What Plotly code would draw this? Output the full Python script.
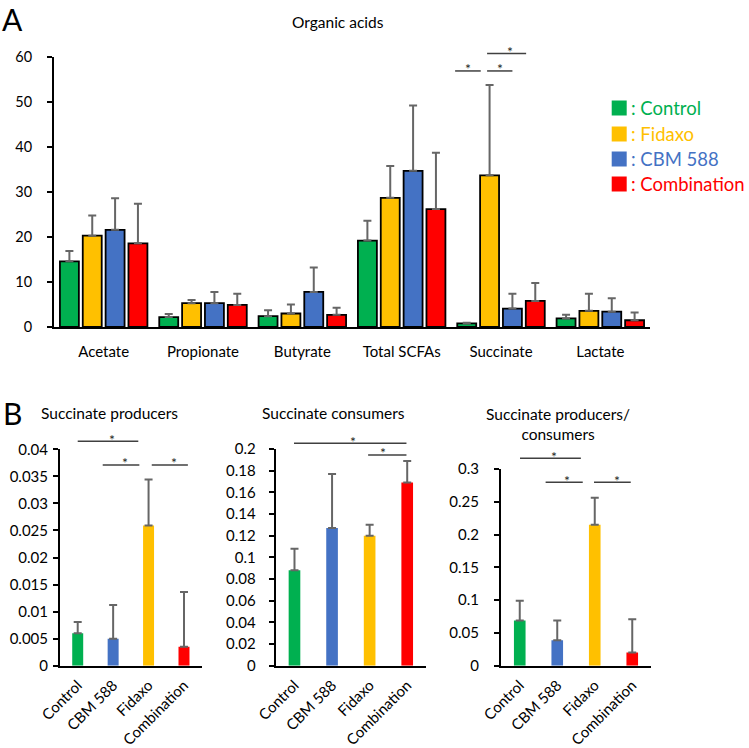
import plotly.graph_objects as go

# ---------------- data ----------------
acid_categories = ["Acetate", "Propionate", "Butyrate", "Total SCFAs", "Succinate", "Lactate"]
group_names = ["Control", "Fidaxo", "CBM 588", "Combination"]
group_colors = ["#00B050", "#FFC000", "#4472C4", "#FF0000"]

control_vals = [14.6, 2.2, 2.4, 19.2, 0.8, 1.9]
fidaxo_vals = [20.3, 5.3, 3.0, 28.7, 33.7, 3.6]
cbm_vals = [21.6, 5.3, 7.8, 34.7, 4.1, 3.4]
combo_vals = [18.6, 4.9, 2.7, 26.2, 5.8, 1.5]

control_err = [2.3, 0.7, 1.3, 4.4, 0.15, 0.8]
fidaxo_err = [4.5, 0.7, 2.0, 7.1, 20.1, 3.8]
cbm_err = [7.0, 2.5, 5.4, 14.5, 3.3, 3.0]
combo_err = [8.8, 2.5, 1.6, 12.5, 4.0, 1.7]

b_categories = ["Control", "CBM 588", "Fidaxo", "Combination"]
b_colors = ["#00B050", "#4472C4", "#FFC000", "#FF0000"]

producers_vals = [0.0060, 0.0050, 0.0259, 0.0035]
producers_err = [0.0021, 0.0062, 0.0085, 0.0101]
consumers_vals = [0.088, 0.127, 0.120, 0.169]
consumers_err = [0.020, 0.050, 0.010, 0.020]
ratio_vals = [0.069, 0.039, 0.215, 0.020]
ratio_err = [0.030, 0.030, 0.041, 0.051]

# significance brackets: (x start, x end, height in data units, star x)
sig_a = [(3.538, 3.796, 56.9, 3.667), (3.86, 4.115, 56.9, 3.994), (3.86, 4.253, 60.8, 4.09)]
sig_b1 = [(0.0, 1.71, 0.0415, 0.96), (0.706, 1.74, 0.0371, 1.34), (2.09, 3.11, 0.0371, 2.72)]
sig_b2 = [(-0.013, 2.98, 0.2052, 1.55), (1.96, 2.98, 0.1945, 2.36)]
sig_b3 = [(0.007, 1.63, 0.3163, 0.91), (0.69, 1.68, 0.2797, 1.27), (1.98, 2.96, 0.2797, 2.60)]

# ---------------- figure ----------------
W, H = 749, 748
FONT = "Lato"
ERR_COL = "#666666"


def px_x(p):
    return p / W


def px_y(p):
    return 1 - p / H


fig = go.Figure()

series = [control_vals, fidaxo_vals, cbm_vals, combo_vals]
errs = [control_err, fidaxo_err, cbm_err, combo_err]
for name, col, vals, er in zip(group_names, group_colors, series, errs):
    fig.add_trace(go.Bar(
        x=acid_categories, y=vals, name=name,
        marker=dict(color=col, line=dict(color="black", width=1.8)),
        error_y=dict(type="data", symmetric=False, array=er, arrayminus=[0] * len(er),
                     color=ERR_COL, thickness=2, width=4),
        xaxis="x", yaxis="y", showlegend=False,
    ))

for i, (vals, er) in enumerate([(producers_vals, producers_err),
                                (consumers_vals, consumers_err),
                                (ratio_vals, ratio_err)]):
    k = i + 2
    fig.add_trace(go.Bar(
        x=b_categories, y=vals, width=0.31,
        marker=dict(color=b_colors, line=dict(width=0)),
        error_y=dict(type="data", symmetric=False, array=er, arrayminus=[0] * len(er),
                     color=ERR_COL, thickness=2, width=4),
        xaxis=f"x{k}", yaxis=f"y{k}", showlegend=False,
    ))

axis_common = dict(showline=True, linecolor="black", linewidth=2, showgrid=False,
                   zeroline=False, automargin=False)

layout = dict(
    template="none",
    width=W, height=H, autosize=False,
    margin=dict(l=0, r=0, t=0, b=0, pad=0),
    paper_bgcolor="white", plot_bgcolor="white",
    barmode="group", bargap=0.08, bargroupgap=0.17,
    font=dict(family=FONT, color="black"),
    xaxis=dict(domain=[px_x(54), px_x(650)], anchor="y", ticks="",
               ticklabelstandoff=10, range=[-0.5, 5.5],
               tickfont=dict(family=FONT, size=15, color="black"), **axis_common),
    yaxis=dict(domain=[px_y(327), px_y(57)], anchor="x", range=[0, 60], dtick=10,
               ticks="outside", ticklen=5, tickwidth=2, tickcolor="black",
               ticklabelstandoff=12, tickfont=dict(family=FONT, size=14.5, color="black"),
               **axis_common),
)

b_domains = [
    ((60, 201.7), (665.7, 449.3), [0, 0.04], 0.005, 2),
    ((275.7, 426), (665.7, 449.0), [0, 0.2], 0.02, 10),
    ((501, 651), (665.7, 469.0), [0, 0.3], 0.05, 12),
]
for i, (xd, yd, rng, dt, standoff) in enumerate(b_domains):
    k = i + 2
    layout[f"xaxis{k}"] = dict(domain=[px_x(xd[0]), px_x(xd[1])], anchor=f"y{k}", ticks="",
                               tickangle=-45, ticklabelstandoff=3, range=[-0.5, 3.5],
                               tickfont=dict(family=FONT, size=15, color="black"), **axis_common)
    layout[f"yaxis{k}"] = dict(domain=[px_y(yd[0]), px_y(yd[1])], anchor=f"x{k}", range=rng,
                               dtick=dt, ticks="outside", ticklen=5, tickwidth=2,
                               tickcolor="black", ticklabelstandoff=standoff,
                               tickfont=dict(family=FONT, size=15, color="black"), **axis_common)

fig.update_layout(**layout)

shapes = []
annotations = []

# significance brackets
for sigs, xr, yr, ymax in [(sig_a, "x", "y", 60), (sig_b1, "x2", "y2", 0.04),
                           (sig_b2, "x3", "y3", 0.2), (sig_b3, "x4", "y4", 0.3)]:
    for x0, x1, h, sx in sigs:
        yd = h / ymax
        shapes.append(dict(type="line", xref=xr, yref=f"{yr} domain", x0=x0, x1=x1, y0=yd, y1=yd,
                           line=dict(color="#404040", width=1.5)))
        annotations.append(dict(xref=xr, yref=f"{yr} domain", x=sx, y=yd, text="*",
                                showarrow=False, yanchor="middle", yshift=2,
                                font=dict(family=FONT, size=14, color="#262626")))

# legend (panel A)
legend_rows = [108, 134, 159, 184]
for name, col, yc in zip(group_names, group_colors, legend_rows):
    shapes.append(dict(type="rect", xref="paper", yref="paper",
                       x0=px_x(611.7), x1=px_x(626.7), y0=px_y(yc + 7.5), y1=px_y(yc - 7.5),
                       fillcolor=col, line=dict(width=0)))
    annotations.append(dict(xref="paper", yref="paper", x=px_x(628.5), y=px_y(yc), text=": " + name,
                            showarrow=False, xanchor="left", yanchor="middle",
                            font=dict(family=FONT, size=18.5, color=col)))

# titles & panel letters
TITLE_SIZE = 15.5
annotations += [
    dict(xref="paper", yref="paper", x=px_x(338), y=px_y(22), text="Organic acids", showarrow=False,
         xanchor="center", yanchor="middle", font=dict(family=FONT, size=TITLE_SIZE, color="black")),
    dict(xref="paper", yref="paper", x=px_x(109), y=px_y(413), text="Succinate producers", showarrow=False,
         xanchor="center", yanchor="middle", font=dict(family=FONT, size=TITLE_SIZE, color="black")),
    dict(xref="paper", yref="paper", x=px_x(333), y=px_y(413), text="Succinate consumers", showarrow=False,
         xanchor="center", yanchor="middle", font=dict(family=FONT, size=TITLE_SIZE, color="black")),
    dict(xref="paper", yref="paper", x=px_x(558), y=px_y(424), text="Succinate producers/<br>consumers",
         showarrow=False, xanchor="center", yanchor="middle",
         font=dict(family=FONT, size=TITLE_SIZE, color="black")),
    dict(xref="paper", yref="paper", x=px_x(12), y=px_y(19), text="A", showarrow=False,
         xanchor="center", yanchor="middle", font=dict(family=FONT, size=30, color="black")),
    dict(xref="paper", yref="paper", x=px_x(12), y=px_y(413), text="B", showarrow=False,
         xanchor="center", yanchor="middle", font=dict(family=FONT, size=30, color="black")),
]

fig.update_layout(shapes=shapes, annotations=annotations)
fig.write_html("out.html", config={"displayModeBar": False},
               post_script="document.body.style.margin='0px';document.body.style.overflow='hidden';")
